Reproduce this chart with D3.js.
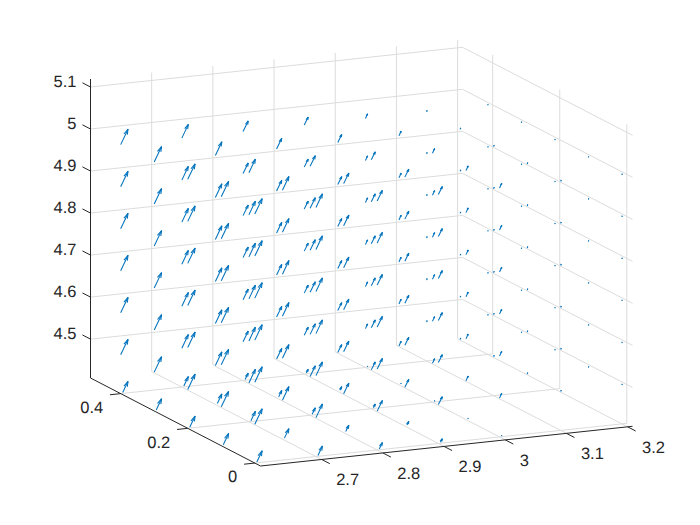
<!DOCTYPE html>
<html><head><meta charset="utf-8">
<script src="https://cdn.jsdelivr.net/npm/d3@7"></script>
<style>html,body{margin:0;padding:0;background:#fff}svg{display:block}text{font-family:"Liberation Sans",Arial,sans-serif;font-size:16.5px;fill:#262626;text-rendering:geometricPrecision}</style>
</head><body><svg id="c" width="700" height="525"></svg>
<script>
// Data
const xGrid=[2.6,2.7,2.8,2.9,3.0,3.1,3.2];
const yGrid=[0,0.1,0.2,0.3,0.4];
const zGrid=[4.4,4.5,4.6,4.7,4.8,4.9,5.0];
const uByX=[0.0200,0.0176,0.0140,0.0108,0.0060,0.0016,0.0012];
const vByX=[0.0145,0.0128,0.0100,0.0078,0.0044,0.0014,0.0012];
const wByX=[0.0276,0.0246,0.0190,0.0140,0.0084,0.0026,0.0018];
const xTicks=[2.7,2.8,2.9,3,3.1,3.2];
const yTicks=[0,0.2,0.4];
const zTicks=[4.5,4.6,4.7,4.8,4.9,5,5.1];
const xLim=[2.6,3.208], yLim=[-0.017,0.49], zLim=[4.4075,5.119];

const sxX=d3.scaleLinear().domain(xLim).range([0,372]);
const sxY=d3.scaleLinear().domain(yLim).range([0,-170]);
const syX=d3.scaleLinear().domain(xLim).range([0,-39.7]);
const syY=d3.scaleLinear().domain(yLim).range([0,-88]);
const syZ=d3.scaleLinear().domain(zLim).range([0,-299]);
const ox=260.5,oy=466;
const P=(x,y,z)=>[ox+sxX(x)+sxY(y), oy+syX(x)+syY(y)+syZ(z)];
const svg=d3.select('#c');
const line=d3.line();
const seg=(g,a,b,col,w)=>g.append('path').attr('d',line([P(...a),P(...b)])).attr('fill','none').attr('stroke',col).attr('stroke-width',w);

const gGrid=svg.append('g');
const gridCol='#dcdcdc';
xTicks.forEach(x=>{
  seg(gGrid,[x,yLim[0],zLim[0]],[x,yLim[1],zLim[0]],gridCol,1);
  seg(gGrid,[x,yLim[1],zLim[0]],[x,yLim[1],zLim[1]],gridCol,1);
});
yTicks.forEach(y=>{
  seg(gGrid,[xLim[0],y,zLim[0]],[xLim[1],y,zLim[0]],gridCol,1);
  seg(gGrid,[xLim[1],y,zLim[0]],[xLim[1],y,zLim[1]],gridCol,1);
});
zTicks.forEach(z=>{
  seg(gGrid,[xLim[0],yLim[1],z],[xLim[1],yLim[1],z],gridCol,1);
  seg(gGrid,[xLim[1],yLim[1],z],[xLim[1],yLim[0],z],gridCol,1);
});

// clip a 3-D segment against the floor of the box
function clipFloor(a,b){
  if(a[2]>=zLim[0]&&b[2]>=zLim[0])return [a,b];
  if(a[2]<zLim[0]&&b[2]<zLim[0])return null;
  const t=(zLim[0]-a[2])/(b[2]-a[2]);
  const m=[a[0]+t*(b[0]-a[0]),a[1]+t*(b[1]-a[1]),zLim[0]];
  return a[2]<zLim[0]?[m,b]:[a,m];
}
const gQ=svg.append('g').attr('fill','none').attr('stroke','#0072BD').attr('stroke-width',1.05);
const alpha=0.33,beta=0.33;
xGrid.forEach((x,i)=>yGrid.forEach(y=>zGrid.forEach(z=>{
  const u=uByX[i],v=vByX[i],w=wByX[i];
  const tip=[x+u,y+v,z+w];
  const h1=[x+u-alpha*(u+beta*v),y+v-alpha*(v-beta*u),z+w-alpha*w];
  const h2=[x+u-alpha*(u-beta*v),y+v-alpha*(v+beta*u),z+w-alpha*w];
  [[[x,y,z],tip],[h1,tip],[tip,h2]].forEach(([a,b])=>{
    const c=clipFloor(a,b);
    if(c)gQ.append('path').attr('d',line([P(...c[0]),P(...c[1])]));
  });
})));

const gAx=svg.append('g');
const axCol='#262626';
seg(gAx,[xLim[0],yLim[0],zLim[0]],[xLim[1],yLim[0],zLim[0]],axCol,1);
seg(gAx,[xLim[0],yLim[0],zLim[0]],[xLim[0],yLim[1],zLim[0]],axCol,1);
seg(gAx,[xLim[0],yLim[1],zLim[0]],[xLim[0],yLim[1],zLim[1]],axCol,1);
xTicks.forEach(x=>{
  seg(gAx,[x,yLim[0],zLim[0]],[x,yLim[0]-0.024,zLim[0]],axCol,1);
  const p=P(x,yLim[0],zLim[0]);
  gAx.append('text').attr('x',p[0]+14.5).attr('y',p[1]+20).attr('dy','0.35em').attr('text-anchor','start').text(d3.format('~g')(x));
});
yTicks.forEach(y=>{
  seg(gAx,[xLim[0],y,zLim[0]],[xLim[0]-0.0175,y,zLim[0]],axCol,1);
  const p=P(xLim[0],y,zLim[0]);
  gAx.append('text').attr('x',p[0]-17.5).attr('y',p[1]+13.5).attr('dy','0.35em').attr('text-anchor','end').text(d3.format('~g')(y));
});
zTicks.forEach(z=>{
  seg(gAx,[xLim[0],yLim[1],z],[xLim[0],yLim[1]+0.024,z],axCol,1);
  const p=P(xLim[0],yLim[1],z);
  gAx.append('text').attr('x',p[0]-14).attr('y',p[1]-6).attr('dy','0.35em').attr('text-anchor','end').text(d3.format('~g')(z));
});
</script></body></html>
